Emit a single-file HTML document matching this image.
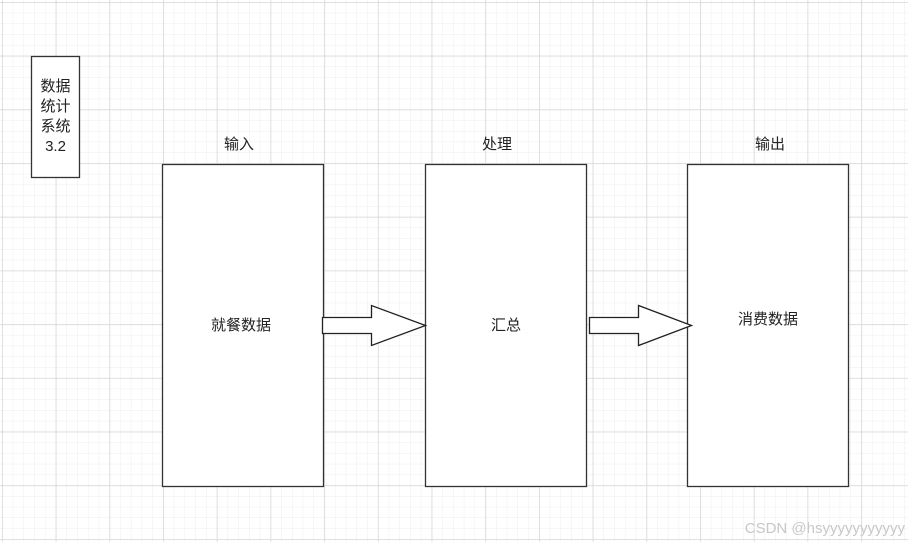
<!DOCTYPE html>
<html><head><meta charset="utf-8"><style>
html,body{margin:0;padding:0;background:#fff;}
svg{display:block;}
text{font-family:"Liberation Sans","Noto Sans CJK SC",sans-serif;fill:#222;}
</style></head><body>
<svg width="908" height="542" viewBox="0 0 908 542" xmlns="http://www.w3.org/2000/svg">
<defs>
<pattern id="minor" x="2" y="2" width="10.74" height="10.74" patternUnits="userSpaceOnUse">
<path d="M0 0H10.74M0 0V10.74" stroke="#eeeeee" stroke-width="1" fill="none"/>
</pattern>
<pattern id="major" x="2" y="2" width="53.7" height="53.7" patternUnits="userSpaceOnUse">
<path d="M0 0H53.7M0 0V53.7" stroke="#d6d6d6" stroke-width="1.5" fill="none"/>
</pattern>
</defs>
<rect width="908" height="542" fill="#fff"/>
<rect width="908" height="542" fill="url(#minor)"/>
<rect width="908" height="542" fill="url(#major)"/>

<rect x="31.5" y="56.5" width="48" height="121" fill="#fff" stroke="#333" stroke-width="1.3"/>
<text x="55.5" y="91" font-size="15" text-anchor="middle">数据</text>
<text x="55.5" y="111" font-size="15" text-anchor="middle">统计</text>
<text x="55.5" y="131" font-size="15" text-anchor="middle">系统</text>
<text x="55.5" y="151" font-size="15" text-anchor="middle">3.2</text>

<rect x="162.5" y="164.5" width="161" height="322" fill="#fff" stroke="#333" stroke-width="1.3"/>
<rect x="425.5" y="164.5" width="161" height="322" fill="#fff" stroke="#333" stroke-width="1.3"/>
<rect x="687.5" y="164.5" width="161" height="322" fill="#fff" stroke="#333" stroke-width="1.3"/>

<text x="239" y="149" font-size="15" text-anchor="middle">输入</text>
<text x="497" y="149" font-size="15" text-anchor="middle">处理</text>
<text x="770" y="149" font-size="15" text-anchor="middle">输出</text>

<text x="241" y="330" font-size="15" text-anchor="middle">就餐数据</text>
<text x="506" y="330" font-size="15" text-anchor="middle">汇总</text>
<text x="768" y="324" font-size="15" text-anchor="middle">消费数据</text>

<path d="M322.5 317.5H371.5V305.5L425.5 325.5L371.5 345.5V333.5H322.5Z" fill="#fff" stroke="#222" stroke-width="1.3"/>
<path d="M589.5 317.5H638.5V305.5L691.5 325.5L638.5 345.5V333.5H589.5Z" fill="#fff" stroke="#222" stroke-width="1.3"/>

<text x="905" y="533" font-size="15" text-anchor="end" style="fill:#c8c8c8">CSDN @hsyyyyyyyyyyy</text>
</svg>
</body></html>
